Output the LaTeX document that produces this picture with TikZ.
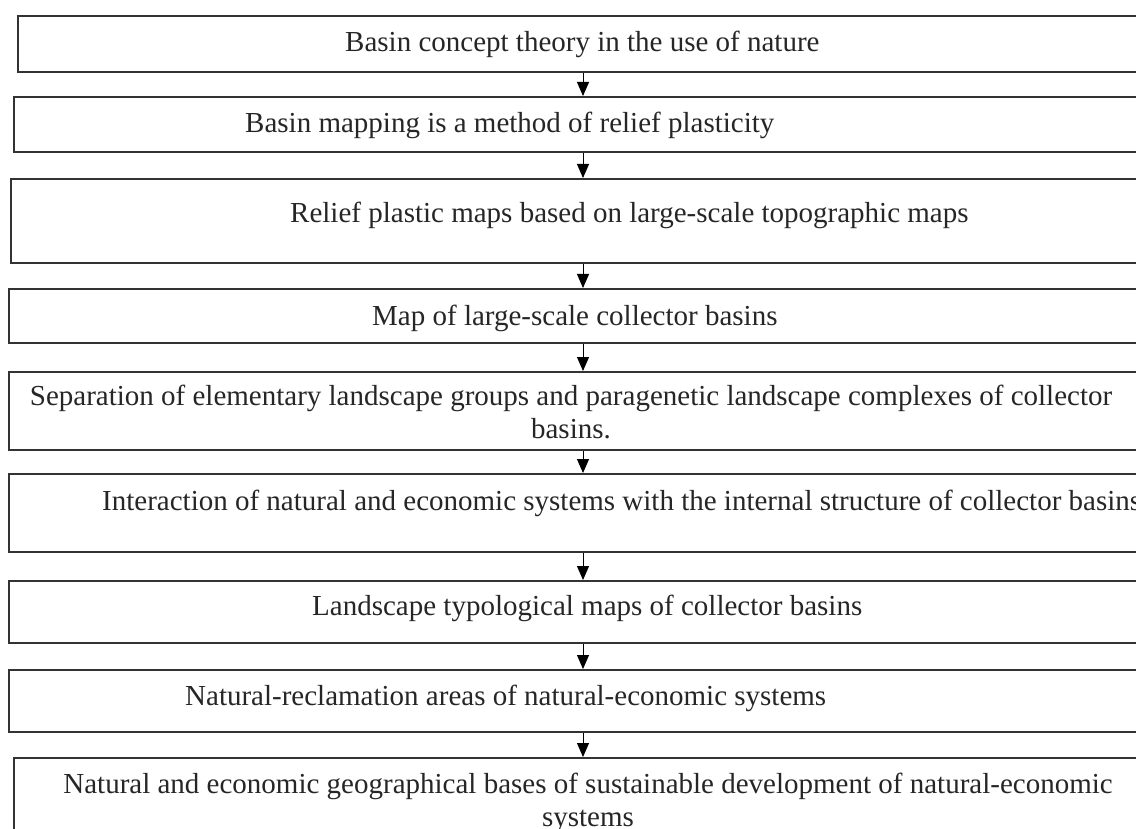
\documentclass[tikz,border=0pt]{standalone}
\usepackage{fontspec}
\setmainfont{Liberation Serif}
\usetikzlibrary{arrows.meta}
\begin{document}
\begin{tikzpicture}[x=1pt,y=-1pt,
  font=\fontsize{29}{33}\selectfont,
  boxnode/.style={draw=black!80, line width=1.8pt, rectangle, inner sep=0pt, anchor=north west},
  txt/.style={inner sep=0pt, text=black!85},
  flow/.style={draw=black, line width=1pt, -{Triangle[width=12pt,length=14pt]}}]
\useasboundingbox (0,0) rectangle (1136,829);
\fill[white] (0,0) rectangle (1136,829);
\clip (0,0) rectangle (1136,829);
\coordinate (ax) at (583,0);
% boxes
\node[boxnode, minimum width=1133pt, minimum height=56pt] (b1) at (17,15) {};
\node[boxnode, minimum width=1137pt, minimum height=55pt] (b2) at (13,96) {};
\node[boxnode, minimum width=1140pt, minimum height=84pt] (b3) at (10,178) {};
\node[boxnode, minimum width=1142pt, minimum height=54pt] (b4) at (8,288) {};
\node[boxnode, minimum width=1142pt, minimum height=78pt] (b5) at (8,371) {};
\node[boxnode, minimum width=1142pt, minimum height=78pt] (b6) at (8,473) {};
\node[boxnode, minimum width=1142pt, minimum height=62pt] (b7) at (8,580) {};
\node[boxnode, minimum width=1142pt, minimum height=62pt] (b8) at (8,669) {};
\node[boxnode, minimum width=1137pt, minimum height=90pt] (b9) at (13,757) {};
% texts
\node[txt, anchor=base west] (t1) at (345,52) {Basin concept theory in the use of nature};
\node[txt, anchor=base west] (t2) at (245,133) {Basin mapping is a method of relief plasticity};
\node[txt, anchor=base west] (t3) at (290,223) {Relief plastic maps based on large-scale topographic maps};
\node[txt, anchor=base west] (t4) at (372,325) {Map of large-scale collector basins};
\node[txt, anchor=base, align=center] (t5) at (571,438) {Separation of elementary landscape groups and paragenetic landscape complexes of collector\\basins.};
\node[txt, anchor=base west] (t6) at (102,510) {Interaction of natural and economic systems with the internal structure of collector basins};
\node[txt, anchor=base west] (t7) at (312,615) {Landscape typological maps of collector basins};
\node[txt, anchor=base west] (t8) at (185,705) {Natural-reclamation areas of natural-economic systems};
\node[txt, anchor=base, align=center] (t9) at (588,826) {Natural and economic geographical bases of sustainable development of natural-economic\\systems};
% arrows
\draw[flow] (b1.south -| ax) -- (b2.north -| ax);
\draw[flow] (b2.south -| ax) -- (b3.north -| ax);
\draw[flow] (b3.south -| ax) -- (b4.north -| ax);
\draw[flow] (b4.south -| ax) -- (b5.north -| ax);
\draw[flow] (b5.south -| ax) -- (b6.north -| ax);
\draw[flow] (b6.south -| ax) -- (b7.north -| ax);
\draw[flow] (b7.south -| ax) -- (b8.north -| ax);
\draw[flow] (b8.south -| ax) -- (b9.north -| ax);
\end{tikzpicture}
\end{document}
